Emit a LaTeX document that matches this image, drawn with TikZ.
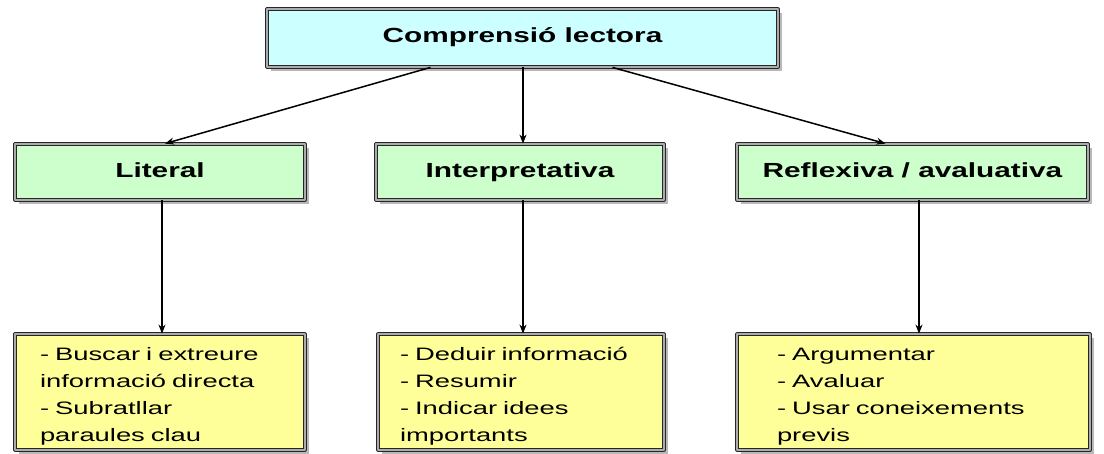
\documentclass[tikz,border=0pt]{standalone}
\usepackage{fontspec}
\setmainfont{Liberation Sans}
\newfontfamily\capfont[FakeStretch=1.46]{Liberation Sans}
\newfontfamily\txtfont[FakeStretch=1.52]{Liberation Sans}
\usetikzlibrary{shadows,arrows.meta}
\definecolor{cian}{HTML}{CCFFFF}
\definecolor{verd}{HTML}{CCFFCC}
\definecolor{groc}{HTML}{FFFF99}
\tikzset{
	caixa/.style={draw=black!85, line width=0.8pt, double=gray!65, double distance=1.6pt,
		drop shadow={shadow xshift=4pt, shadow yshift=-4pt, fill=gray!55, opacity=1}, inner sep=0pt},
	nivell/.style={caixa, fill=verd, minimum height=56pt, text height=15pt, text depth=4pt,
		font=\capfont\bfseries\fontsize{20.4}{24}\selectfont},
	detall/.style={caixa, fill=groc, minimum height=116pt, inner ysep=0pt, align=left,
		font=\txtfont\fontsize{18}{27}\selectfont},
	fletxa/.style={-{Stealth[length=9pt,width=7pt]}, line width=1.5pt}
}
\begin{document}
\begin{tikzpicture}[x=1pt, y=-1pt, line join=round]
	\useasboundingbox (0,0) rectangle (1104,453);
	% arrel
	\node[caixa, fill=cian, minimum width=511pt, minimum height=58pt, text height=15pt, text depth=7pt,
		font=\capfont\bfseries\fontsize{20.4}{24}\selectfont] (arrel) at (522.5,38) {Comprensió lectora};
	
	% nivells
	\node[nivell, minimum width=290pt] (lit) at (160,172) {Literal};
	\node[nivell, minimum width=288pt] (int) at (520,172) {Interpretativa};
	\node[nivell, minimum width=351pt] (ref) at (912.5,172) {Reflexiva / avaluativa};
	
	% tasques
	\node[detall, inner xsep=25pt, text width=240pt] (litd) at (160,392) {\rule{0pt}{22pt}- Buscar i extreure\\informació directa\\- Subratllar\\paraules clau};
	\node[detall, inner xsep=22pt, text width=242pt] (intd) at (521,392) {\rule{0pt}{22pt}- Deduir informació\\- Resumir\\- Indicar idees\\importants};
	\node[detall, inner xsep=40pt, text width=273pt] (refd) at (913.5,392) {\rule{0pt}{22pt}- Argumentar\\- Avaluar\\- Usar coneixements\\previs};
	
	\draw[fletxa] ([xshift=-92pt]arrel.south) -- ([xshift=5pt]lit.north);
	\draw[fletxa] ([xshift=0.5pt]arrel.south) -- ([xshift=0.5pt]arrel.south |- int.north);
	\draw[fletxa] ([xshift=90pt]arrel.south) -- ([xshift=-27pt]ref.north);
	
	\draw[fletxa] ([xshift=2pt]lit.south) -- ([xshift=2pt]lit.south |- litd.north);
	\draw[fletxa] ([xshift=3pt]int.south) -- ([xshift=3pt]int.south |- intd.north);
	\draw[fletxa] ([xshift=6.5pt]ref.south) -- ([xshift=6.5pt]ref.south |- refd.north);
\end{tikzpicture}
\end{document}
